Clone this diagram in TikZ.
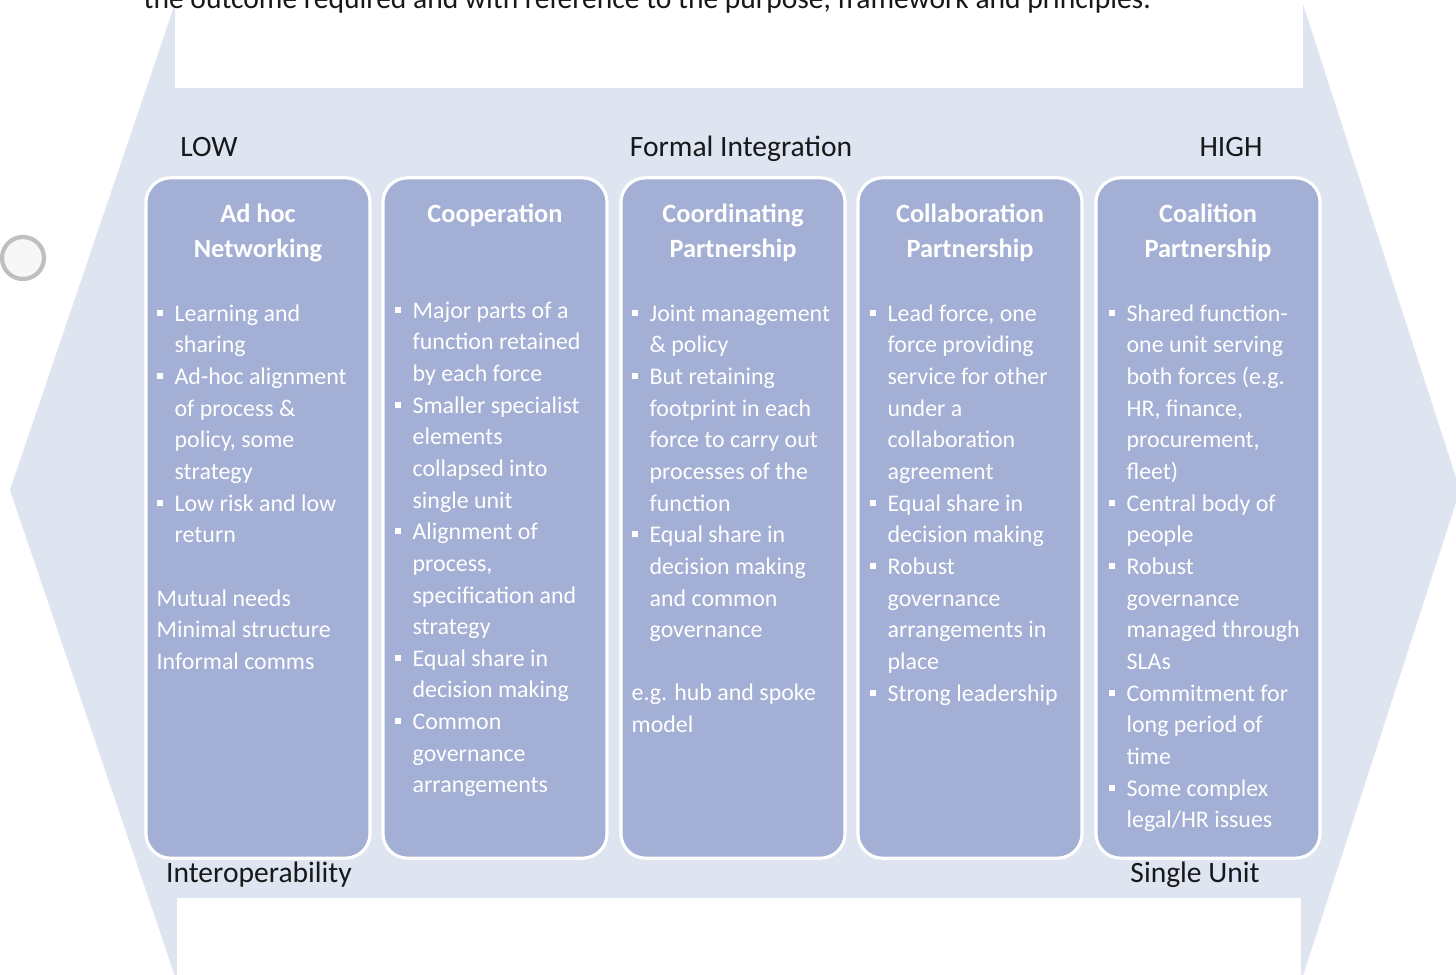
\documentclass[tikz,border=0pt]{standalone}
\usepackage{fontspec}
\setmainfont{Carlito}
\usetikzlibrary{positioning}
\definecolor{arrowbg}{RGB}{222,228,240}
\definecolor{stagefill}{RGB}{163,175,212}
\definecolor{inkdark}{RGB}{22,24,26}
\newcommand{\bul}{\makebox[5.1pt][l]{\rule[1.5pt]{1.7pt}{1.7pt}}}
\newcommand{\ind}{\hspace*{5.1pt}}
\tikzset{
  stage/.style={draw=white, line width=0.9pt, fill=stagefill, rounded corners=7pt,
    minimum width=2.24cm, minimum height=6.8cm, inner sep=0pt},
  stagetitle/.style={text=white, font=\fontsize{7.5}{10}\selectfont\bfseries, align=center, inner sep=0pt},
  stagetext/.style={text=white, font=\fontsize{6.8}{9}\selectfont, align=left, inner sep=0pt, anchor=north west},
  endlabel/.style={text=inkdark, font=\fontsize{8.4}{10}\selectfont, inner sep=0pt, anchor=base}
}

\begin{document}
\begin{tikzpicture}[x=0.01cm,y=-0.01cm]
    \useasboundingbox (0,0) rectangle (1456,975);
    \clip (0,0) rectangle (1456,975);
    \fill[white] (0,0) rectangle (1456,975);
    % double headed arrow behind the stages
    \fill[arrowbg] (10,490) -- (178,-5) -- (1300,-5) -- (1460,490) -- (1300,985) -- (178,985) -- cycle;
    \fill[white] (175,-5) rectangle (1303,88);
    \fill[white] (177,898) rectangle (1301,985);
    \draw[gray!50, line width=1.2pt, fill=gray!6] (23,258) circle (21);
    \node[endlabel, anchor=base west] (lead) at (143,8) {the outcome required and with reference to the purpose, framework and principles.};

    \node[endlabel] (low) at (209,156) {LOW};
    \node[endlabel] (formal) at (741,156) {Formal Integration};
    \node[endlabel] (high) at (1231,156) {HIGH};
    \node[endlabel] (interop) at (259,882) {Interoperability};
    \node[endlabel] (single) at (1195,882) {Single Unit};

    \node[stage] (adhoc) at (258,518) {};
    \node[stage] (coop) at (495,518) {};
    \node[stage] (coord) at (733,518) {};
    \node[stage] (collab) at (970,518) {};
    \node[stage] (coalit) at (1208,518) {};

    \node[stagetitle, below=7.7pt of adhoc.north] (adhoc-t) {Ad hoc\\Networking};
    \node[stagetitle, below=7.7pt of coop.north] (coop-t) {Cooperation};
    \node[stagetitle, below=7.7pt of coord.north] (coord-t) {Coordinating\\Partnership};
    \node[stagetitle, below=7.7pt of collab.north] (collab-t) {Collaboration\\Partnership};
    \node[stagetitle, below=7.7pt of coalit.north] (coalit-t) {Coalition\\Partnership};

    \node[stagetext] (adhoc-b) at (156,304) {\bul Learning and\\\ind sharing\\\bul Ad-hoc alignment\\\ind of process \&\\\ind policy, some\\\ind strategy\\\bul Low risk and low\\\ind return\\[9pt]Mutual needs\\Minimal structure\\Informal comms};
    \node[stagetext] (coop-b) at (394,301) {\bul Major parts of a\\\ind function retained\\\ind by each force\\\bul Smaller specialist\\\ind elements\\\ind collapsed into\\\ind single unit\\\bul Alignment of\\\ind process,\\\ind specification and\\\ind strategy\\\bul Equal share in\\\ind decision making\\\bul Common\\\ind governance\\\ind arrangements};
    \node[stagetext] (coord-b) at (631,304) {\bul Joint management\\\ind \& policy\\\bul But retaining\\\ind footprint in each\\\ind force to carry out\\\ind processes of the\\\ind function\\\bul Equal share in\\\ind decision making\\\ind and common\\\ind governance\\[9pt]e.g. hub and spoke\\model};
    \node[stagetext] (collab-b) at (869,304) {\bul Lead force, one\\\ind force providing\\\ind service for other\\\ind under a\\\ind collaboration\\\ind agreement\\\bul Equal share in\\\ind decision making\\\bul Robust\\\ind governance\\\ind arrangements in\\\ind place\\\bul Strong leadership};
    \node[stagetext] (coalit-b) at (1108,304) {\bul Shared function-\\\ind one unit serving\\\ind both forces (e.g.\\\ind HR, finance,\\\ind procurement,\\\ind fleet)\\\bul Central body of\\\ind people\\\bul Robust\\\ind governance\\\ind managed through\\\ind SLAs\\\bul Commitment for\\\ind long period of\\\ind time\\\bul Some complex\\\ind legal/HR issues};
\end{tikzpicture}
\end{document}
